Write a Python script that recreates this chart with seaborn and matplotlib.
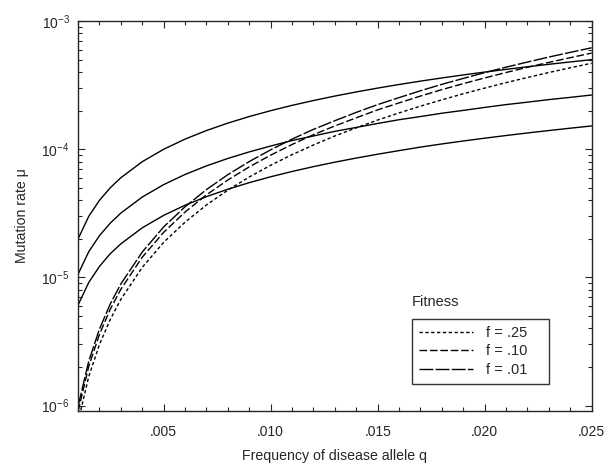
import numpy as np
import pandas as pd
import matplotlib
matplotlib.use("Agg")
import matplotlib.pyplot as plt
import seaborn as sns
from matplotlib.ticker import FixedLocator, MultipleLocator, LogLocator, NullFormatter
from matplotlib.lines import Line2D

# frequency of disease allele q
q = [0.001, 0.0015, 0.002, 0.0025, 0.003, 0.004, 0.005, 0.006, 0.007, 0.008,
     0.009, 0.010, 0.011, 0.012, 0.013, 0.014, 0.015, 0.016, 0.017, 0.018,
     0.019, 0.020, 0.021, 0.022, 0.023, 0.024, 0.025]

# solid curves (upper, middle, lower)
solid_top = [2.0e-5, 3.0e-5, 4.0e-5, 5.0e-5, 6.0e-5, 8.0e-5, 1.0e-4, 1.2e-4, 1.4e-4, 1.6e-4,
             1.8e-4, 2.0e-4, 2.2e-4, 2.4e-4, 2.6e-4, 2.8e-4, 3.0e-4, 3.2e-4, 3.4e-4, 3.6e-4,
             3.8e-4, 4.0e-4, 4.2e-4, 4.4e-4, 4.6e-4, 4.8e-4, 5.0e-4]
solid_mid = [1.06e-5, 1.59e-5, 2.12e-5, 2.65e-5, 3.18e-5, 4.24e-5, 5.3e-5, 6.36e-5, 7.42e-5, 8.48e-5,
             9.54e-5, 1.06e-4, 1.17e-4, 1.27e-4, 1.38e-4, 1.48e-4, 1.59e-4, 1.70e-4, 1.80e-4, 1.91e-4,
             2.01e-4, 2.12e-4, 2.23e-4, 2.33e-4, 2.44e-4, 2.54e-4, 2.65e-4]
solid_low = [6.1e-6, 9.15e-6, 1.22e-5, 1.53e-5, 1.83e-5, 2.44e-5, 3.05e-5, 3.66e-5, 4.27e-5, 4.88e-5,
             5.49e-5, 6.1e-5, 6.71e-5, 7.32e-5, 7.93e-5, 8.54e-5, 9.15e-5, 9.76e-5, 1.04e-4, 1.10e-4,
             1.16e-4, 1.22e-4, 1.28e-4, 1.34e-4, 1.40e-4, 1.46e-4, 1.52e-4]

# dashed curves by fitness f
fit_25 = [7.5e-7, 1.69e-6, 3.0e-6, 4.69e-6, 6.75e-6, 1.2e-5, 1.88e-5, 2.7e-5, 3.68e-5, 4.8e-5,
          6.08e-5, 7.5e-5, 9.08e-5, 1.08e-4, 1.27e-4, 1.47e-4, 1.69e-4, 1.92e-4, 2.17e-4, 2.43e-4,
          2.71e-4, 3.0e-4, 3.31e-4, 3.63e-4, 3.97e-4, 4.32e-4, 4.69e-4]
fit_10 = [9.0e-7, 2.03e-6, 3.6e-6, 5.63e-6, 8.1e-6, 1.44e-5, 2.25e-5, 3.24e-5, 4.41e-5, 5.76e-5,
          7.29e-5, 9.0e-5, 1.09e-4, 1.30e-4, 1.52e-4, 1.76e-4, 2.03e-4, 2.30e-4, 2.60e-4, 2.92e-4,
          3.25e-4, 3.6e-4, 3.97e-4, 4.36e-4, 4.76e-4, 5.18e-4, 5.63e-4]
fit_01 = [9.9e-7, 2.23e-6, 3.96e-6, 6.19e-6, 8.91e-6, 1.58e-5, 2.48e-5, 3.56e-5, 4.85e-5, 6.34e-5,
          8.02e-5, 9.9e-5, 1.20e-4, 1.43e-4, 1.67e-4, 1.94e-4, 2.23e-4, 2.53e-4, 2.86e-4, 3.21e-4,
          3.57e-4, 3.96e-4, 4.37e-4, 4.79e-4, 5.24e-4, 5.70e-4, 6.19e-4]

fit_labels = ["f = .25", "f = .10", "f = .01"]
x_ticks = [0.005, 0.010, 0.015, 0.020, 0.025]
x_ticklabels = [".005", ".010", ".015", ".020", ".025"]

sns.set_style("ticks")
plt.rcParams["font.family"] = ["Liberation Sans", "DejaVu Sans"]
plt.rcParams["mathtext.fontset"] = "custom"
plt.rcParams["mathtext.rm"] = "Liberation Sans"
plt.rcParams["mathtext.it"] = "Liberation Sans:italic"

fig = plt.figure(figsize=(6.1, 4.68), dpi=100)
ax = fig.add_axes([0.128, 0.122, 0.842, 0.833])

lw = 1.0
for ys in [solid_top, solid_mid, solid_low]:
    sns.lineplot(x=q, y=ys, ax=ax, color="black", lw=lw, sort=False)

dash_styles = [(2.4, 1.8), (5.5, 2.0), (10.0, 1.6)]
for ys, d in zip([fit_25, fit_10, fit_01], dash_styles):
    sns.lineplot(x=q, y=ys, ax=ax, color="black", lw=lw, sort=False)
    ax.lines[-1].set_dashes(d)

ax.set_yscale("log")
ax.set_xlim(0.001, 0.025)
ax.set_ylim(9.1e-7, 1e-3)

ax.xaxis.set_major_locator(FixedLocator(x_ticks))
ax.set_xticklabels(x_ticklabels)
ax.xaxis.set_minor_locator(MultipleLocator(0.001))
ax.yaxis.set_major_locator(LogLocator(base=10, numticks=10))
ax.yaxis.set_minor_locator(LogLocator(base=10, subs=np.arange(2, 10), numticks=20))
ax.yaxis.set_minor_formatter(NullFormatter())

ax.tick_params(which="both", direction="in", top=True, right=True, labelsize=10, width=0.8)
ax.tick_params(which="major", length=5)
ax.tick_params(axis="x", which="major", pad=10)
ax.tick_params(axis="y", which="major", pad=6)
ax.tick_params(which="minor", length=3)
for s in ax.spines.values():
    s.set_linewidth(1.0)

ax.set_xlabel("Frequency of disease allele q", fontsize=10.2, labelpad=7)
ax.set_ylabel("Mutation rate μ", fontsize=10.2, labelpad=9)

# legend box with its title sitting above the frame
handles = [Line2D([], [], color="black", lw=lw, dashes=d) for d in dash_styles]
leg = ax.legend(handles, fit_labels, loc="lower left", bbox_to_anchor=(0.65, 0.069, 0.266, 0.182),
                mode="expand", fancybox=False, frameon=True, fontsize=10.5, handlelength=3.7,
                handletextpad=0.9, borderaxespad=0, labelspacing=0.3, borderpad=0.5)
leg.get_frame().set_edgecolor("black")
leg.get_frame().set_linewidth(1.0)
ax.text(0.65, 0.262, "Fitness", transform=ax.transAxes, fontsize=10.5, ha="left", va="bottom")

fig.savefig("out.png", dpi=100)
